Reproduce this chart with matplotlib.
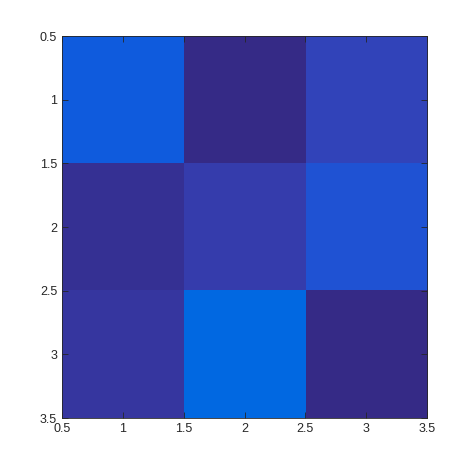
import numpy as np
import matplotlib
matplotlib.use('Agg')
import matplotlib.pyplot as plt
from matplotlib.colors import LinearSegmentedColormap

plt.rcParams['font.family'] = ['Liberation Sans', 'DejaVu Sans']

# colour indices into a 64-entry parula map (image() style direct indexing)
values = [[8, 1, 5],
          [2, 4, 7],
          [3, 10, 1]]

# parula anchor colours (approx.)
parula_anchors = [
    (0.2081, 0.1663, 0.5292), (0.2116, 0.1898, 0.5777), (0.2123, 0.2138, 0.6270),
    (0.2081, 0.2386, 0.6771), (0.1959, 0.2645, 0.7279), (0.1707, 0.2919, 0.7792),
    (0.1253, 0.3242, 0.8303), (0.0591, 0.3598, 0.8683), (0.0117, 0.3875, 0.8820),
    (0.0060, 0.4086, 0.8828), (0.0165, 0.4266, 0.8786),
    (0.0702, 0.5000, 0.8500), (0.0200, 0.6000, 0.8000), (0.0800, 0.7000, 0.7000),
    (0.3300, 0.7500, 0.5000), (0.6500, 0.7500, 0.3000), (0.9000, 0.7300, 0.2300),
    (0.9763, 0.9831, 0.0538),
]
pos = np.concatenate([np.linspace(0, 10 / 63, 11), np.linspace(10 / 63, 1, 8)[1:]])
parula = LinearSegmentedColormap.from_list('parula', list(zip(pos, parula_anchors)), N=64)

fig = plt.figure(figsize=(4.73, 4.71), dpi=100)
ax = fig.add_axes([0.131, 0.1125, 0.772, 0.811])
ax.imshow(np.array(values), cmap=parula, vmin=1, vmax=64, aspect='auto',
          extent=(0.5, 3.5, 3.5, 0.5), interpolation='nearest')

ax.set_xlim(0.5, 3.5)
ax.set_ylim(3.5, 0.5)
ticks = [0.5, 1, 1.5, 2, 2.5, 3, 3.5]
labels = ['0.5', '1', '1.5', '2', '2.5', '3', '3.5']
ax.set_xticks(ticks, labels)
ax.set_yticks(ticks, labels)
ax.tick_params(direction='in', length=4, width=0.6, labelsize=9, colors='#262626',
               top=True, right=True)
for s in ax.spines.values():
    s.set_linewidth(0.6)
    s.set_color('#262626')

fig.savefig('out.png', dpi=100)
